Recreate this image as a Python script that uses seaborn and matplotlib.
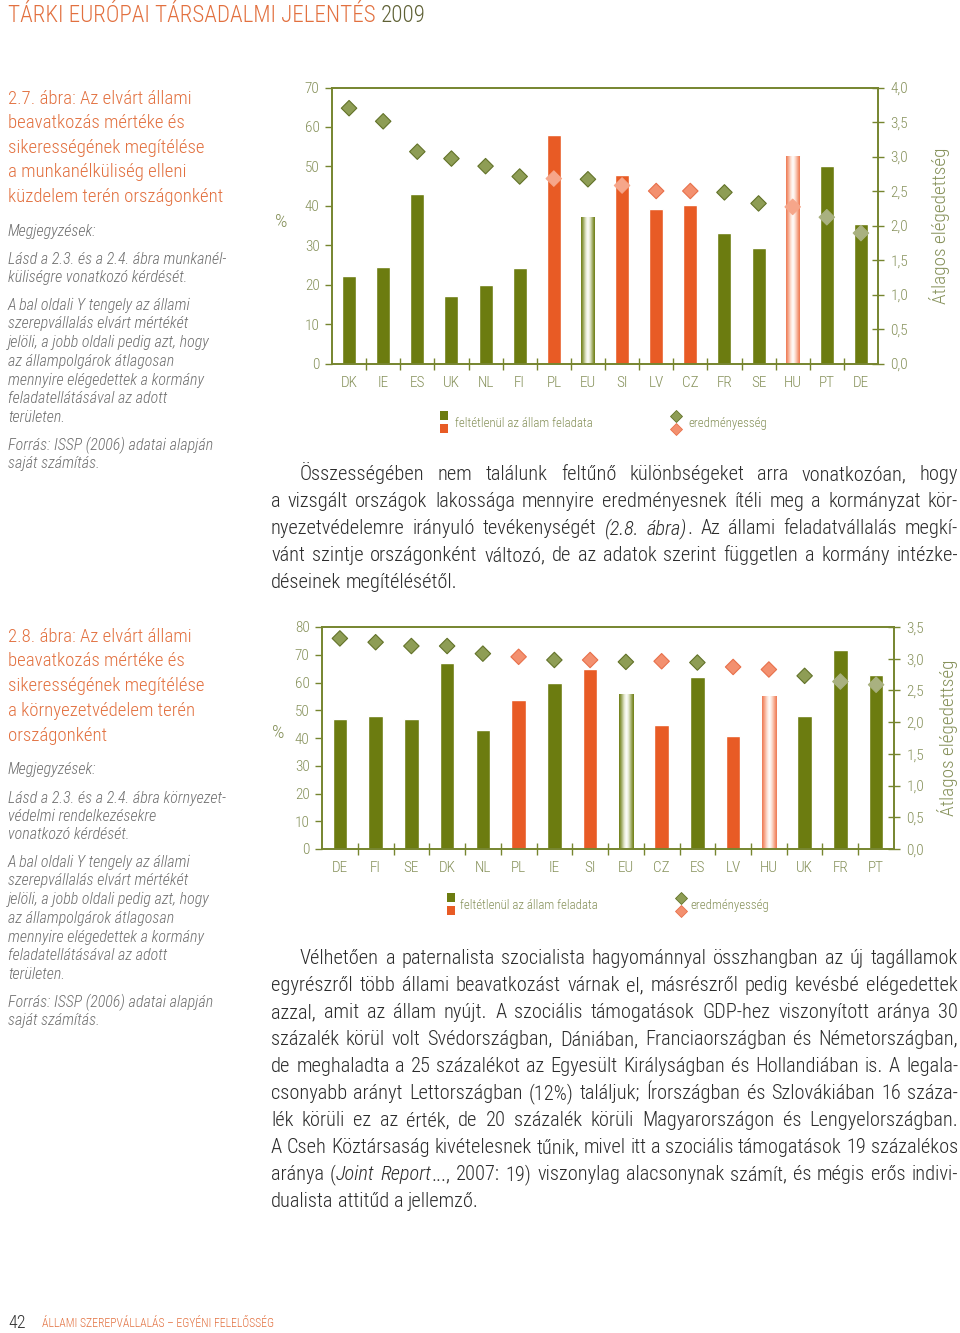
import numpy as np
import pandas as pd
import matplotlib
matplotlib.use('Agg')
import matplotlib.pyplot as plt
import seaborn as sns
from matplotlib import font_manager
from matplotlib.colors import LinearSegmentedColormap
from matplotlib.lines import Line2D
from matplotlib.patches import Rectangle

# adatok: 2.7. ábra (munkanélküliség)
countries_1 = ['DK', 'IE', 'ES', 'UK', 'NL', 'FI', 'PL', 'EU', 'SI', 'LV', 'CZ', 'FR', 'SE', 'HU', 'PT', 'DE']
feladata_1 = [22.1, 24.6, 43.0, 17.1, 20.0, 24.3, 58.0, 37.1, 47.7, 39.1, 40.2, 33.1, 29.2, 52.7, 50.1, 35.3]
eredmeny_1 = [3.70, 3.51, 3.07, 2.97, 2.86, 2.71, 2.68, 2.67, 2.58, 2.50, 2.50, 2.48, 2.32, 2.27, 2.12, 1.89]

# adatok: 2.8. ábra (környezetvédelem)
countries_2 = ['DE', 'FI', 'SE', 'DK', 'NL', 'PL', 'IE', 'SI', 'EU', 'CZ', 'ES', 'LV', 'HU', 'UK', 'FR', 'PT']
feladata_2 = [46.8, 48.0, 46.8, 66.9, 42.9, 53.8, 59.9, 64.9, 56.0, 44.8, 61.9, 40.7, 55.0, 48.0, 71.8, 62.8]
eredmeny_2 = [3.32, 3.26, 3.20, 3.20, 3.08, 3.03, 2.98, 2.98, 2.95, 2.96, 2.94, 2.87, 2.83, 2.73, 2.64, 2.59]

new_members = ['PL', 'SI', 'LV', 'CZ', 'HU']
gradient_bars = ['EU', 'HU']

header = 'TÁRKI EURÓPAI TÁRSADALMI JELENTÉS'
header_year = '2009'

caption_1 = ['2.7. ábra: Az elvárt állami', 'beavatkozás mértéke és', 'sikerességének megítélése',
             'a munkanélküliség elleni', 'küzdelem terén országonként']
note_1 = ['Lásd a 2.3. és a 2.4. ábra munkanél-', 'küliségre vonatkozó kérdését.']
caption_2 = ['2.8. ábra: Az elvárt állami', 'beavatkozás mértéke és', 'sikerességének megítélése',
             'a környezetvédelem terén', 'országonként']
note_2 = ['Lásd a 2.3. és a 2.4. ábra környezet-', 'védelmi rendelkezésekre', 'vonatkozó kérdését.']
axis_note = ['A bal oldali Y tengely az állami', 'szerepvállalás elvárt mértékét',
             'jelöli, a jobb oldali pedig azt, hogy', 'az állampolgárok átlagosan',
             'mennyire elégedettek a kormány', 'feladatellátásával az adott', 'területen.']
source = ['Forrás: ISSP (2006) adatai alapján', 'saját számítás.']

body_1 = [
    'Összességében nem találunk feltűnő különbségeket arra vonatkozóan, hogy',
    'a vizsgált országok lakossága mennyire eredményesnek ítéli meg a kormányzat kör-',
    'nyezetvédelemre irányuló tevékenységét *(2.8. ábra)*. Az állami feladatvállalás megkí-',
    'vánt szintje országonként változó, de az adatok szerint független a kormány intézke-',
    'déseinek megítélésétől.',
]
body_2 = [
    'Vélhetően a paternalista szocialista hagyománnyal összhangban az új tagállamok',
    'egyrészről több állami beavatkozást várnak el, másrészről pedig kevésbé elégedettek',
    'azzal, amit az állam nyújt. A szociális támogatások GDP-hez viszonyított aránya 30',
    'százalék körül volt Svédországban, Dániában, Franciaországban és Németországban,',
    'de meghaladta a 25 százalékot az Egyesült Királyságban és Hollandiában is. A legala-',
    'csonyabb arányt Lettországban (12%) találjuk; Írországban és Szlovákiában 16 száza-',
    'lék körüli ez az érték, de 20 százalék körüli Magyarországon és Lengyelországban.',
    'A Cseh Köztársaság kivételesnek tűnik, mivel itt a szociális támogatások 19 százalékos',
    'aránya (*Joint Report*..., 2007: 19) viszonylag alacsonynak számít, és mégis erős indivi-',
    'dualista attitűd a jellemző.',
]

GREEN = '#6c7c10'
ORANGE = '#e85b25'
SPINE = '#76852f'
TICK = '#86915a'
CAPTION = '#e2703f'
NOTE = '#6e6e6e'
TEXT = '#2b2b2b'
D_FACE = {'green': '#8e9d55', 'orange': '#f3906f', 'green_in': '#a9b180', 'orange_in': '#f6a68a'}
D_EDGE = {'green': '#627228', 'orange': '#e8704a', 'green_in': '#a9b180', 'orange_in': '#f6a68a'}
GRAD = {'EU': ['white', '#e4e8cf', '#8f9c4a', GREEN], 'HU': ['white', '#fde2d6', '#f49a7a', '#ee7650']}

sns.set_theme(style='white')
names = {f.name for f in font_manager.fontManager.ttflist}
FONT = next(f for f in ['Liberation Sans Narrow', 'Roboto Condensed', 'Open Sans Condensed',
                        'Open Sans', 'DejaVu Sans'] if f in names)
plt.rcParams['font.family'] = [FONT, 'DejaVu Sans']
plt.rcParams['font.weight'] = 'light'

W, H = 960, 1333
fig = plt.figure(figsize=(W / 100, H / 100), dpi=100)
fig.patch.set_facecolor('white')
renderer = fig.canvas.get_renderer()


def fx(x):
    return x / W


def fy(y):
    return 1 - y / H


def measure(s, size, style='normal'):
    t = fig.text(0, 0, s, fontsize=size, fontstyle=style)
    w = t.get_window_extent(renderer).width
    t.remove()
    return w


def fit_size(lines, target, base=12, style='normal', cap=None):
    w = max(measure(s, base, style) for s in lines)
    size = base * target / w
    return min(size, cap) if cap else size


def baseline(yc, size):
    # kozepvonalbol alapvonal
    return yc + 0.36 * size * 100 / 72


def block(lines, x, y0, step, size, color, style='normal'):
    for i, s in enumerate(lines):
        fig.text(fx(x), fy(baseline(y0 + i * step, size)), s, fontsize=size, color=color,
                 fontstyle=style, va='baseline', ha='left')


def parse_words(line):
    words, italic = [], False
    for raw in line.split(' '):
        runs = []
        for j, part in enumerate(raw.split('*')):
            if j > 0:
                italic = not italic
            if part:
                runs.append((part, italic))
        words.append(runs)
    return words


def natural_width(lines, size):
    sp = measure('a a', size) - measure('aa', size)
    out = []
    for line in lines[:-1]:
        words = parse_words(line)
        tot = sum(measure(t, size, 'italic' if it else 'normal') for w in words for t, it in w)
        out.append(tot + sp * (len(words) - 1))
    return max(out)


def paragraph(lines, x0, x1, y0, step, size, indent, color):
    sp = measure('a a', size) - measure('aa', size)
    for i, line in enumerate(lines):
        words = parse_words(line)
        widths = [[measure(t, size, 'italic' if it else 'normal') for t, it in w] for w in words]
        start = x0 + (indent if i == 0 else 0)
        total = sum(map(sum, widths))
        if i == len(lines) - 1 or len(words) < 2:
            gap = sp
        else:
            gap = (x1 - start - total) / (len(words) - 1)
        x = start
        y = baseline(y0 + i * step, size)
        for w, ws in zip(words, widths):
            for (t, it), wd in zip(w, ws):
                fig.text(fx(x), fy(y), t, fontsize=size, color=color,
                         fontstyle='italic' if it else 'normal', va='baseline', ha='left')
                x += wd
            x += gap


def draw_chart(rect, countries, values, scores, ymax, rmax):
    ax = fig.add_axes(rect)
    n = len(countries)
    palette = {c: (ORANGE if c in new_members else GREEN) for c in countries}
    df = pd.DataFrame({'orszag': countries, 'ertek': values})
    sns.barplot(data=df, x='orszag', y='ertek', hue='orszag', order=countries, hue_order=countries,
                palette=palette, saturation=1, width=0.41, legend=False, errorbar=None, ax=ax)

    # EU es HU oszlop: fenyes csik kozepen
    for patch in list(ax.patches):
        i = int(round(patch.get_x() + patch.get_width() / 2))
        c = countries[i]
        if c in gradient_bars:
            x0, w, h = patch.get_x(), patch.get_width(), patch.get_height()
            t = np.abs(np.linspace(-1, 1, 101))[None, :]
            cmap = LinearSegmentedColormap.from_list('g' + c, list(zip([0, 0.3, 0.75, 1], GRAD[c])))
            im = ax.imshow(t, cmap=cmap, vmin=0, vmax=1, extent=(x0, x0 + w, 0, h), aspect='auto',
                           interpolation='bicubic', zorder=patch.get_zorder() + 0.1)
            im.set_clip_path(patch)

    ax.set_xlim(-0.5, n - 0.5)
    ax.set_ylim(0, ymax)
    ax.set_xlabel('')
    ax.set_ylabel('')
    ax.set_yticks(range(0, ymax + 1, 10))
    ax.set_xticks(range(n))
    ax.set_xticklabels(countries)
    ax.set_xticks(np.arange(n - 1) + 0.5, minor=True)
    ax.tick_params(axis='x', which='major', length=0, pad=9, labelcolor=TICK, labelsize=11)
    ax.tick_params(axis='x', which='minor', bottom=True, direction='inout', length=9, width=1, color=SPINE)
    ax.tick_params(axis='y', left=True, direction='out', length=5, width=1, color=SPINE,
                   labelcolor=TICK, labelsize=11, pad=4)
    for sp in ax.spines.values():
        sp.set_color(SPINE)
        sp.set_linewidth(1.2)

    ax2 = ax.twinx()
    kinds = []
    for c, v, s in zip(countries, values, scores):
        kind = 'orange' if c in new_members else 'green'
        if s / rmax * ymax < v:
            kind += '_in'
        kinds.append(kind)
    sdf = pd.DataFrame({'x': np.arange(n), 'y': scores, 'kind': kinds})
    sns.scatterplot(data=sdf, x='x', y='y', hue='kind', palette=D_FACE, marker='D', s=62,
                    edgecolor=[D_EDGE[k] for k in kinds], linewidth=0.8, legend=False, ax=ax2, zorder=3)
    ax2.set_xlim(-0.5, n - 0.5)
    ax2.set_ylim(0, rmax)
    ax2.set_ylabel('')
    rt = np.arange(0, rmax + 0.01, 0.5)
    ax2.set_yticks(rt)
    ax2.set_yticklabels([f'{v:.1f}'.replace('.', ',') for v in rt])
    ax2.tick_params(axis='y', right=True, direction='inout', length=8, width=1, color=SPINE,
                    labelcolor=TICK, labelsize=11, pad=5)
    for sp in ax2.spines.values():
        sp.set_color(SPINE)
        sp.set_linewidth(1.2)
    ax2.grid(False)
    ax.grid(False)
    return ax, ax2


def legend(xsq, ysq, xtxt, xd, xdtxt, size):
    for k, col in enumerate([GREEN, ORANGE]):
        fig.add_artist(Rectangle((fx(xsq), fy(ysq + 13 * k + 9)), 8 / W, 9 / H, transform=fig.transFigure,
                                 facecolor=col, edgecolor='none'))
    for k, kind in enumerate(['green', 'orange']):
        fig.add_artist(Line2D([fx(xd)], [fy(ysq + 5 + 13 * k)], marker='D', markersize=6, linestyle='none',
                              markerfacecolor=D_FACE[kind], markeredgecolor=D_EDGE[kind], markeredgewidth=0.6,
                              transform=fig.transFigure))
    yt = baseline(ysq + 11, size)
    fig.text(fx(xtxt), fy(yt), 'feltétlenül az állam feladata', fontsize=size, color=TICK, va='baseline')
    fig.text(fx(xdtxt), fy(yt), 'eredményesség', fontsize=size, color=TICK, va='baseline')


# fejlec
hs = fit_size([header + ' ' + header_year], 417, cap=20)
fig.text(fx(8), fy(baseline(14, hs)), header, fontsize=hs, color=CAPTION, va='baseline')
hw = measure(header + ' ', hs)
fig.text(fx(8 + hw), fy(baseline(14, hs)), header_year, fontsize=hs, color='#5f6135', va='baseline')

# bal oldali hasab
cs = fit_size(caption_1, 216, cap=13.5)
ns = fit_size(axis_note, 232, style='italic', cap=11.5)
block(caption_1, 8, 97, 24.5, cs, CAPTION)
block(['Megjegyzések:'], 8, 230, 18.7, ns, NOTE, 'italic')
block(note_1, 8, 258, 18.3, ns, NOTE, 'italic')
block(axis_note, 8, 304, 18.7, ns, NOTE, 'italic')
block(source, 8, 444, 18.3, ns, NOTE, 'italic')

block(caption_2, 8, 635, 24.7, cs, CAPTION)
block(['Megjegyzések:'], 8, 768, 18.7, ns, NOTE, 'italic')
block(note_2, 8, 797, 18.3, ns, NOTE, 'italic')
block(axis_note, 8, 861, 18.7, ns, NOTE, 'italic')
block(source, 8, 1001, 18.3, ns, NOTE, 'italic')

# abrak
draw_chart([fx(332), fy(363.5), (878 - 332) / W, (363.5 - 87.5) / H], countries_1, feladata_1, eredmeny_1, 70, 4.0)
draw_chart([fx(322), fy(849), (894 - 322) / W, (849 - 627) / H], countries_2, feladata_2, eredmeny_2, 80, 3.5)

fig.text(fx(281), fy(222), '%', fontsize=14, color=TICK, ha='center', va='center')
fig.text(fx(278), fy(733), '%', fontsize=14, color=TICK, ha='center', va='center')
rs = fit_size(['Átlagos elégedettség'], 157, cap=14)
fig.text(fx(940), fy(226), 'Átlagos elégedettség', fontsize=rs, color=TICK, rotation=90, ha='center', va='center')
fig.text(fx(947), fy(738), 'Átlagos elégedettség', fontsize=rs, color=TICK, rotation=90, ha='center', va='center')

ls = fit_size(['feltétlenül az állam feladata'], 137, cap=9.5)
legend(440, 411, 455, 676, 688, ls)
legend(447, 893, 460, 681, 690, ls)

# folyoszoveg
bs = min(15, 14 * 687 / natural_width(body_2, 14))
bs = min(bs, 14 * 687 / natural_width(body_1, 14))
paragraph(body_1, 271, 958, 473, 27, bs, 29, TEXT)
paragraph(body_2, 271, 958, 957, 27, bs, 29, TEXT)

# labléc
fig.text(fx(8), fy(baseline(1322, 13)), '42', fontsize=13, color='#333333', va='baseline')
fs = fit_size(['ÁLLAMI SZEREPVÁLLALÁS – EGYÉNI FELELŐSSÉG'], 234, cap=8.5)
fig.text(fx(42), fy(baseline(1323, fs)), 'ÁLLAMI SZEREPVÁLLALÁS – EGYÉNI FELELŐSSÉG', fontsize=fs,
         color=CAPTION, va='baseline')

fig.savefig('out.png', dpi=100, facecolor='white')
